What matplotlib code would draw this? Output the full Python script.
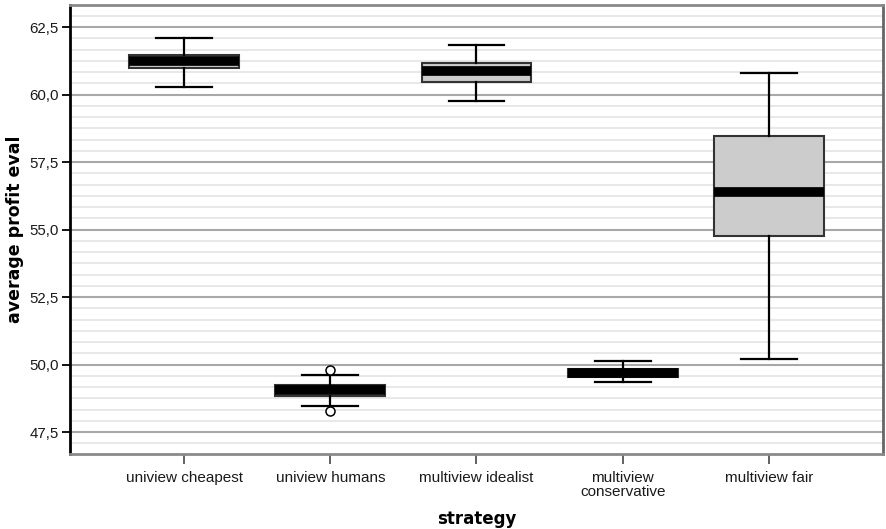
import matplotlib
matplotlib.use("Agg")
import matplotlib.pyplot as plt
from matplotlib.ticker import FixedLocator, FuncFormatter
import numpy as np

categories = ["uniview cheapest", "uniview humans", "multiview idealist",
              "multiview\nconservative", "multiview fair"]
medians = [61.25, 49.05, 60.86, 49.70, 56.40]
q1 = [61.00, 48.84, 60.47, 49.55, 54.77]
q3 = [61.48, 49.24, 61.19, 49.85, 58.46]
whisker_low = [60.29, 48.48, 59.77, 49.34, 50.21]
whisker_high = [62.10, 49.62, 61.83, 50.15, 60.80]
outliers = [[], [49.81, 48.27], [], [], []]
yticks = [47.5, 50.0, 52.5, 55.0, 57.5, 60.0, 62.5]

plt.rcParams['font.family'] = ['Liberation Sans', 'DejaVu Sans']

fig = plt.figure(figsize=(8.86, 5.29), dpi=100)
ax = fig.add_axes([70/886, 1 - 454/529, (883-70)/886, (454-5)/529])

stats = []
for i in range(len(categories)):
    stats.append(dict(med=medians[i], q1=q1[i], q3=q3[i],
                      whislo=whisker_low[i], whishi=whisker_high[i],
                      fliers=outliers[i], label=categories[i]))

ax.bxp(stats, positions=range(len(categories)), widths=0.75,
       patch_artist=True, showfliers=True,
       boxprops=dict(facecolor="#cccccc", edgecolor="#333333", linewidth=1.5),
       medianprops=dict(color="black", linewidth=7.0, solid_capstyle="butt"),
       whiskerprops=dict(color="black", linewidth=1.6),
       capprops=dict(color="black", linewidth=1.6),
       capwidths=0.38,
       flierprops=dict(marker="o", markerfacecolor="white", markeredgecolor="black",
                       markersize=6.5, markeredgewidth=1.1),
       zorder=3)

ax.set_xlim(-0.78, 4.78)
ax.set_ylim(46.69, 63.32)

ax.yaxis.set_major_locator(FixedLocator(yticks))
minor = np.arange(47.5 - 2.5/6*2, 63.4, 2.5/6)
ax.yaxis.set_minor_locator(FixedLocator(minor))
ax.yaxis.set_major_formatter(FuncFormatter(lambda v, p: f"{v:.1f}".replace(".", ",")))
ax.grid(True, axis="y", which="major", color="#a8a8a8", linewidth=1.5, zorder=0)
ax.grid(True, axis="y", which="minor", color="#e6e6e6", linewidth=1.3, zorder=0)
ax.set_axisbelow(True)

ax.tick_params(axis="y", which="major", length=6, width=1.3, color="black",
               labelsize=10.8, labelcolor="#1a1a1a", pad=2)
ax.tick_params(axis="y", which="minor", length=0)
ax.tick_params(axis="x", length=7, width=1.3, color="#555555", labelsize=11,
               labelcolor="#1a1a1a", pad=5)
ax.set_xticks(range(len(categories)))
ax.set_xticklabels(categories, linespacing=1.05)

ax.spines["left"].set_color("black")
ax.spines["left"].set_linewidth(2)
for s in ["top", "bottom", "right"]:
    ax.spines[s].set_color("#8a8a8a")
    ax.spines[s].set_linewidth(2)
ax.spines["right"].set_color("#666666")

ax.set_ylabel("average profit eval", fontsize=12.5, fontweight="bold",
              family="DejaVu Sans", labelpad=4)
ax.set_xlabel("strategy", fontsize=12, fontweight="bold",
              family="DejaVu Sans", labelpad=8)

fig.savefig("out.png", dpi=100)
